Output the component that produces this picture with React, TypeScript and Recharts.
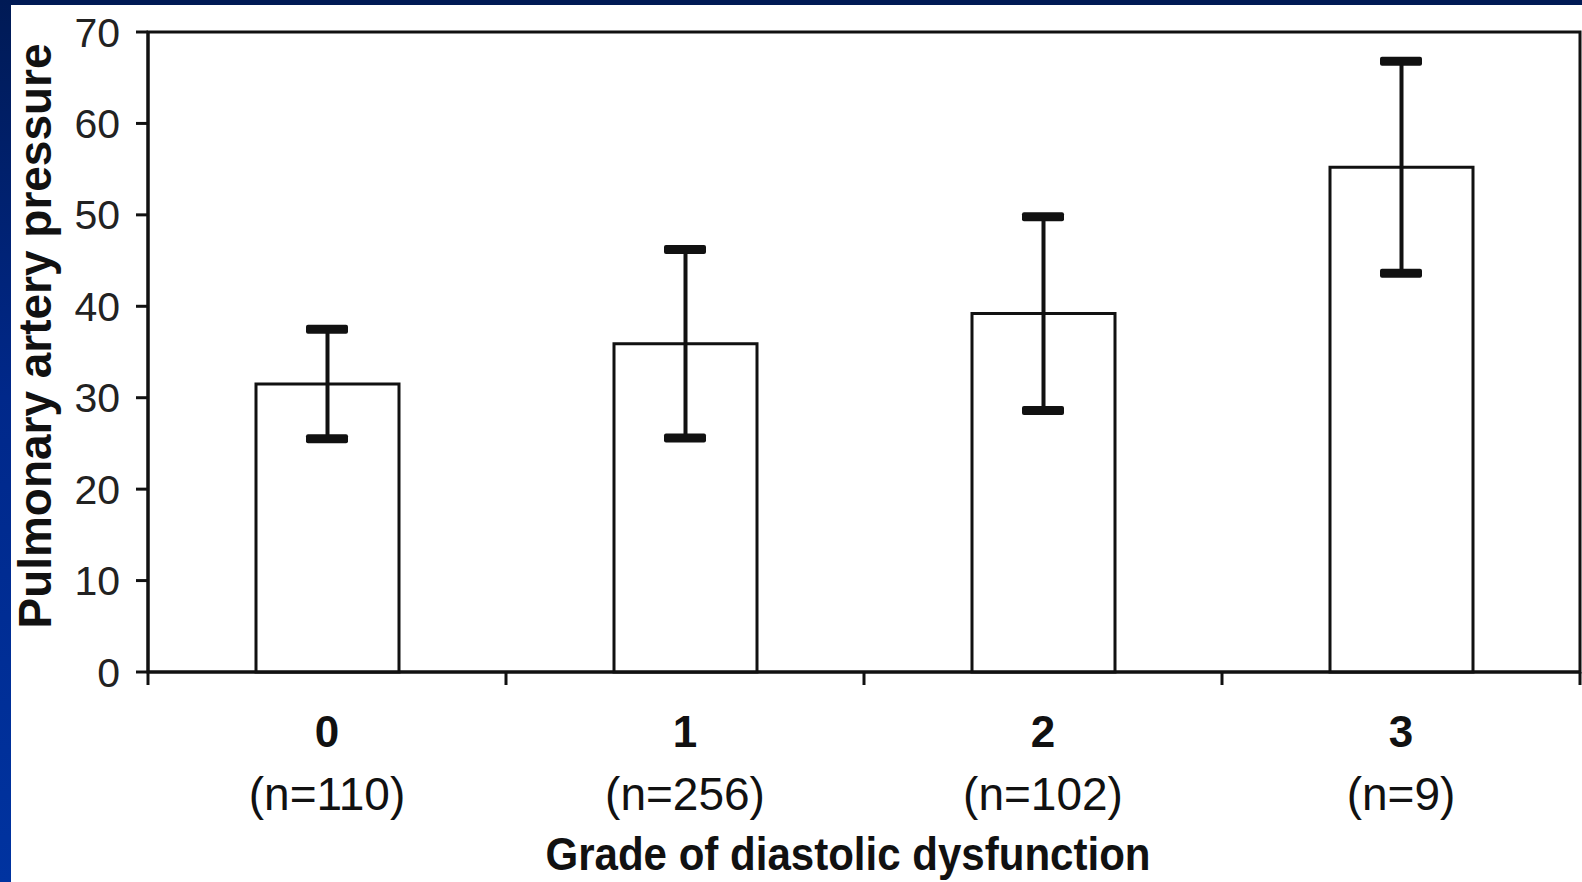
import React from 'react';
import { ComposedChart, Bar, XAxis, YAxis, ErrorBar, Scatter, ReferenceArea } from 'recharts';

// values
const grades = [0, 1, 2, 3];
const gradeLabels = ['0', '1', '2', '3'];
const sampleSizes = ['(n=110)', '(n=256)', '(n=102)', '(n=9)'];
const meanPressure = [31.5, 35.9, 39.2, 55.2];
const sdPressure = [6.0, 10.3, 10.6, 11.6];
const yTicks = [0, 10, 20, 30, 40, 50, 60, 70];
// band edges get tick marks, integer positions carry the labels
const xTicks = [-0.5, 0, 0.5, 1, 1.5, 2, 2.5, 3, 3.5];

const data = grades.map((g, i) => ({
  grade: g,
  mean: meanPressure[i],
  sd: sdPressure[i],
  upper: meanPressure[i] + sdPressure[i],
  lower: meanPressure[i] - sdPressure[i],
}));

const INK = '#111';
const FONT = '"Liberation Sans", Arial, Helvetica, sans-serif';

const GradeTick = (props: any) => {
  const { x, y, payload } = props;
  const v = payload.value as number;
  if (!Number.isInteger(v)) {
    return <line x1={x} y1={y} x2={x} y2={y + 13} stroke={INK} strokeWidth={3} />;
  }
  const i = grades.indexOf(v);
  return (
    <g>
      <text x={x} y={y + 75} textAnchor="middle" fontFamily={FONT} fontWeight="bold" fontSize={44} fill={INK}>
        {gradeLabels[i]}
      </text>
      <text x={x} y={y + 138} textAnchor="middle" fontFamily={FONT} fontSize={46} fill={INK}>
        {sampleSizes[i]}
      </text>
    </g>
  );
};

const Cap = (props: any) => {
  const { cx, cy } = props;
  return <rect x={cx - 21} y={cy - 4.5} width={42} height={9} rx={2} fill={INK} />;
};

const App: React.FC = () => {
  return (
    <div style={{ position: 'absolute', left: 0, top: 0, width: 1582, height: 882, background: '#fff', overflow: 'hidden' }}>
      <div style={{ position: 'absolute', left: 0, top: 0, width: 1582, height: 5, background: '#001a55' }} />
      <div
        style={{
          position: 'absolute', left: 0, top: 0, width: 11, height: 882,
          background: 'linear-gradient(to bottom, #001a55 0%, #00288a 45%, #0033a0 100%)',
        }}
      />
      <ComposedChart
        width={1582}
        height={882}
        data={data}
        margin={{ top: 32, right: 2, bottom: 0, left: 0 }}
        style={{ position: 'absolute', left: 0, top: 0 }}
      >
        <XAxis
          dataKey="grade"
          type="number"
          domain={[-0.5, 3.5]}
          ticks={xTicks}
          interval={0}
          height={210}
          tickSize={0}
          tickMargin={0}
          tickLine={false}
          axisLine={{ stroke: INK, strokeWidth: 3 }}
          tick={<GradeTick />}
          label={(p: any) => {
            const vb = p.viewBox;
            return (
              <text
                x={848}
                y={vb.y + 198}
                textAnchor="middle"
                fontFamily={FONT}
                fontWeight="bold"
                fontSize={46}
                fill={INK}
                textLength={605}
                lengthAdjust="spacingAndGlyphs"
              >
                Grade of diastolic dysfunction
              </text>
            );
          }}
        />
        <YAxis
          type="number"
          domain={[0, 70]}
          ticks={yTicks}
          interval={0}
          width={148}
          tickSize={12}
          tickMargin={16}
          tickLine={{ stroke: INK, strokeWidth: 3 }}
          axisLine={{ stroke: INK, strokeWidth: 3 }}
          tick={{ fill: '#222', fontSize: 41, fontFamily: FONT }}
          label={(p: any) => {
            const vb = p.viewBox;
            const cy = vb.y + vb.height / 2 - 16;
            return (
              <text
                x={35}
                y={cy}
                transform={`rotate(-90 35 ${cy})`}
                textAnchor="middle"
                dominantBaseline="central"
                fontFamily={FONT}
                fontWeight="bold"
                fontSize={46}
                fill={INK}
                textLength={585}
                lengthAdjust="spacingAndGlyphs"
              >
                Pulmonary artery pressure
              </text>
            );
          }}
        />
        <ReferenceArea x1={-0.5} x2={3.5} y1={0} y2={70} fill="none" stroke={INK} strokeWidth={3} />
        <Bar dataKey="mean" fill="#fff" stroke={INK} strokeWidth={3} barSize={143} isAnimationActive={false}>
          <ErrorBar dataKey="sd" direction="y" width={0} stroke={INK} strokeWidth={4} isAnimationActive={false} />
        </Bar>
        <Scatter dataKey="upper" shape={<Cap />} isAnimationActive={false} />
        <Scatter dataKey="lower" shape={<Cap />} isAnimationActive={false} />
      </ComposedChart>
    </div>
  );
};

export default App;
